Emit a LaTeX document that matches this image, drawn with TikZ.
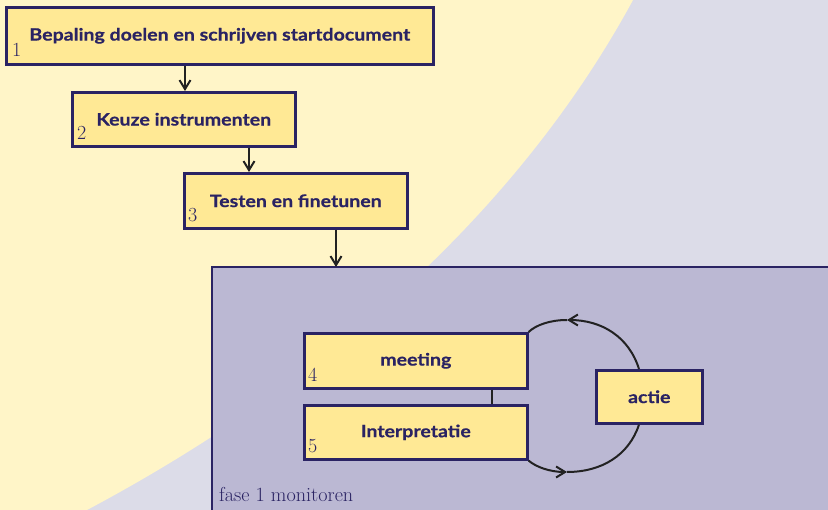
\documentclass[tikz,border=0pt]{standalone}
\usepackage{fontspec}
\setsansfont{Lato}[FakeStretch=1.15,FakeBold=0.6]
\usetikzlibrary{arrows.meta}
\definecolor{bgyellow}{HTML}{FFF5C8}
\definecolor{bglav}{HTML}{DCDCE8}
\definecolor{panel}{HTML}{BBB8D3}
\definecolor{boxfill}{HTML}{FFE995}
\definecolor{navy}{HTML}{2A2363}
\definecolor{arrowc}{HTML}{222222}
\tikzset{
  stepbox/.style={draw=navy, line width=2.6pt, fill=boxfill, text=navy,
    font=\sffamily\bfseries\fontsize{17}{20}\selectfont, inner sep=0pt, anchor=north west},
  numlbl/.style={text=navy, font=\fontsize{20}{22}\selectfont, inner sep=0pt, anchor=base west},
  flow/.style={draw=arrowc, line width=2pt, -{Straight Barb[length=9pt,width=11pt,line width=2pt]}},
  loopline/.style={draw=arrowc, line width=2pt},
  looparrow/.style={draw=arrowc, line width=2pt, -{Straight Barb[length=9pt,width=11pt,line width=2pt]}},
}
\begin{document}
\begin{tikzpicture}[x=1pt,y=-1pt]
\useasboundingbox (0,0) rectangle (828,510);
\clip (0,0) rectangle (828,510);
% background
\fill[bglav] (0,0) rectangle (828,510);
\fill[bgyellow] (0,0) -- (633,0) .. controls (530,190) and (350,370) .. (87,510) -- (0,510) -- cycle;
% panel
\draw[draw=navy, line width=2.6pt, fill=panel] (212,267) rectangle (845,525);
\node[text=navy, font=\fontsize{20.2}{22}\selectfont, anchor=base west, inner sep=0pt] (fase) at (219,502) {fase 1 monitoren};
% step boxes
\node[stepbox, minimum width=427pt, minimum height=57pt] (b1) at (5,6) {Bepaling doelen en schrijven startdocument};
\node[stepbox, minimum width=223pt, minimum height=54pt] (b2) at (71,91) {Keuze instrumenten};
\node[stepbox, minimum width=223pt, minimum height=55pt] (b3) at (183,172) {Testen en finetunen};
\node[stepbox, minimum width=223pt, minimum height=55pt] (b4) at (303,332) {meeting};
\node[stepbox, minimum width=223pt, minimum height=54pt] (b5) at (303,404) {Interpretatie};
\node[stepbox, minimum width=106pt, minimum height=53pt] (b6) at (595,369) {actie};
% numbers
\node[numlbl] (n1) at (12,57) {1};
\node[numlbl] (n2) at (77,140) {2};
\node[numlbl] (n3) at (188,222) {3};
\node[numlbl] (n4) at (308,382) {4};
\node[numlbl] (n5) at (308,453) {5};
% flow arrows
\coordinate (p1) at (185,63);
\draw[flow] (b1.south -| p1) -- (b2.north -| p1);
\coordinate (p2) at (249,63);
\draw[flow] (b2.south -| p2) -- (b3.north -| p2);
\coordinate (p3) at (336,63);
\coordinate (panelTop) at (336,267);
\draw[flow] (b3.south -| p3) -- (panelTop);
% connector between 4 and 5
\coordinate (p4) at (492,0);
\draw[loopline] (b4.south -| p4) -- (b5.north -| p4);
% loop
\coordinate (q) at (639,0);
\coordinate (topm) at (567,320);
\coordinate (botm) at (567,472);
\draw[looparrow] (b6.north -| q) .. controls (629,337) and (602,320) .. (topm);
\draw[loopline] (topm) .. controls (550,320) and (536,325) .. (b4.north east);
\draw[looparrow] (b5.south east) .. controls (536,467) and (550,472) .. (botm);
\draw[loopline] (botm) .. controls (602,472) and (629,455) .. (b6.south -| q);
\end{tikzpicture}
\end{document}
